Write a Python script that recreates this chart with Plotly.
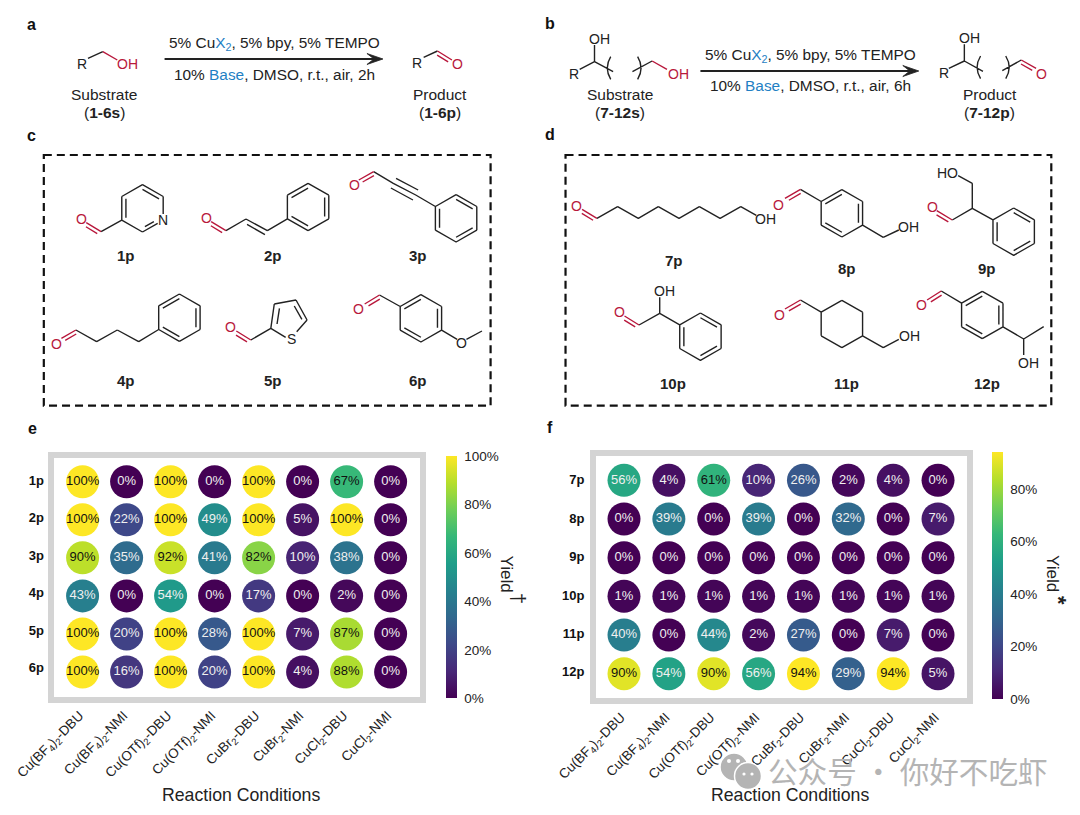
import plotly.graph_objects as go

# ---------- data ----------
CONDITIONS = ["Cu(BF<sub>4</sub>)<sub>2</sub>-DBU", "Cu(BF<sub>4</sub>)<sub>2</sub>-NMI",
              "Cu(OTf)<sub>2</sub>-DBU", "Cu(OTf)<sub>2</sub>-NMI",
              "CuBr<sub>2</sub>-DBU", "CuBr<sub>2</sub>-NMI",
              "CuCl<sub>2</sub>-DBU", "CuCl<sub>2</sub>-NMI"]
ROWS_E = ["1p", "2p", "3p", "4p", "5p", "6p"]
ROWS_F = ["7p", "8p", "9p", "10p", "11p", "12p"]
ROW_TICKS_E = [-0.03, 0.95, 1.93, 2.91, 3.90, 4.88]
ROW_TICKS_F = [-0.01, 0.98, 1.97, 2.97, 3.96, 4.94]
Y_1P = [100, 0, 100, 0, 100, 0, 67, 0]
Y_2P = [100, 22, 100, 49, 100, 5, 100, 0]
Y_3P = [90, 35, 92, 41, 82, 10, 38, 0]
Y_4P = [43, 0, 54, 0, 17, 0, 2, 0]
Y_5P = [100, 20, 100, 28, 100, 7, 87, 0]
Y_6P = [100, 16, 100, 20, 100, 4, 88, 0]
Y_7P = [56, 4, 61, 10, 26, 2, 4, 0]
Y_8P = [0, 39, 0, 39, 0, 32, 0, 7]
Y_9P = [0, 0, 0, 0, 0, 0, 0, 0]
Y_10P = [1, 1, 1, 1, 1, 1, 1, 1]
Y_11P = [40, 0, 44, 2, 27, 0, 7, 0]
Y_12P = [90, 54, 90, 56, 94, 29, 94, 5]
E_ROWS = [Y_1P, Y_2P, Y_3P, Y_4P, Y_5P, Y_6P]
F_ROWS = [Y_7P, Y_8P, Y_9P, Y_10P, Y_11P, Y_12P]
E_TICKS = [0, 20, 40, 60, 80, 100]
F_TICKS = [0, 20, 40, 60, 80]

# ---------- style ----------
W, H = 1080, 815
FONT = "Liberation Sans"
INK = "#222222"
RED = "#b8183c"
BLUE = "#1f7fc4"
FRAME = "#d4d4d4"


def L(x, y):  # left half drawing coordinates
    return x * 0.345, y / 3


def R_(x, y):  # right half drawing coordinates
    return 540 + x * 0.345, y / 3


def fx(x):
    return round(x / W, 5)


def fy(y):
    return round(1 - y / H, 5)


paths = {INK: [], RED: []}
annots = []


def bond(z, a, b, col=INK):
    p, q = z(*a), z(*b)
    paths[col].append(f"M {fx(p[0])} {fy(p[1])} L {fx(q[0])} {fy(q[1])}")


def dbl(z, a, b, ox, oy, col=INK):
    """double bond: main line plus a shorter parallel line offset by ox, oy"""
    bond(z, a, b, col)
    a2 = (a[0] + (b[0] - a[0]) * .12 + ox, a[1] + (b[1] - a[1]) * .12 + oy)
    b2 = (b[0] - (b[0] - a[0]) * .12 + ox, b[1] - (b[1] - a[1]) * .12 + oy)
    bond(z, a2, b2, col)


def hexagon(z, cx, cy, doubles=(), rx=60, ry=71, skip=()):
    v = [(cx, cy - ry), (cx + rx, cy - ry / 2), (cx + rx, cy + ry / 2),
         (cx, cy + ry), (cx - rx, cy + ry / 2), (cx - rx, cy - ry / 2)]
    for i in range(6):
        if i not in skip:
            bond(z, v[i], v[(i + 1) % 6])
    for i in doubles:
        a, b = v[i], v[(i + 1) % 6]
        a2 = (a[0] + (cx - a[0]) * .2, a[1] + (cy - a[1]) * .2)
        b2 = (b[0] + (cx - b[0]) * .2, b[1] + (cy - b[1]) * .2)
        bond(z, a2, b2)
    return v


def chain(z, *pts, col=INK):
    for a, b in zip(pts[:-1], pts[1:]):
        bond(z, a, b, col)


def text(z, x, y, s, size=14, col=INK, bold=False, family=FONT):
    p = z(x, y)
    annots.append(dict(x=fx(p[0]), y=fy(p[1]), xref="paper", yref="paper", text=f"<b>{s}</b>" if bold else s,
                       showarrow=False, xanchor="center", yanchor="middle",
                       font=dict(family=family, size=size, color=col)))


def side(x, y, s, size=17, angle=0, family=FONT, col=INK):
    annots.append(dict(x=fx(x), y=fy(y), xref="paper", yref="paper", text=s, textangle=angle, showarrow=False,
                       xanchor="center", yanchor="middle", font=dict(family=family, size=size, color=col)))


def oxygen(z, x, y):
    text(z, x, y, "O", col=RED)


def bracket(z, x, y0, y1, dx):
    p, q, c = z(x, y0), z(x, y1), z(x + dx, (y0 + y1) / 2)
    paths[INK].append(f"M {fx(p[0])} {fy(p[1])} Q {fx(c[0])} {fy(c[1])} {fx(q[0])} {fy(q[1])}")


# ---------- panels a, b ----------
BLUEX = f"<span style='color:{BLUE}'>X<sub>2</sub></span>"
BASE = f"<span style='color:{BLUE}'>Base</span>"
arrow_shapes = []
for (z, ly, cx, tail, bot) in [(L, 177, 795, 1110, "2h"), (R_, 213, 783, 1098, "6h")]:
    x0 = 477 if z is L else 465
    p, q = z(x0, ly), z(tail, ly)
    arrow_shapes.append(dict(type="line", xref="paper", yref="paper", x0=fx(p[0]), x1=fx(q[0] - 3), y0=fy(p[1]),
                             y1=fy(p[1]), line=dict(color=INK, width=2)))
    tx, ty = q
    arrow_shapes.append(dict(type="path", xref="paper", yref="paper",
                             path=f"M {fx(tx - 16)} {fy(ty - 5.5)} L {fx(tx)} {fy(ty)} L {fx(tx - 16)} {fy(ty + 5.5)} "
                                  f"L {fx(tx - 9)} {fy(ty)} Z",
                             fillcolor=INK, line=dict(color=INK, width=0.8)))
    text(z, cx + 2, ly - 47, f"5% Cu{BLUEX}, 5% bpy, 5% TEMPO", size=15.4)
    text(z, cx, ly + 45, f"10% {BASE}, DMSO, r.t., air, {bot}", size=15.4)

chain(L, (255, 175), (298, 155))
bond(L, (298, 155), (340, 180), RED)
text(L, 238, 192, "R")
text(L, 370, 192, "OH", col=RED)
bond(L, (1228, 172), (1268, 153))
dbl(L, (1268, 153), (1310, 180), -6, 9, RED)
text(L, 1210, 188, "R")
oxygen(L, 1326, 193)
text(L, 302, 283, "Substrate", 15.5)
text(L, 302, 337, "(<b>1-6s</b>)", 15.5)
text(L, 1275, 283, "Product", 15.5)
text(L, 1275, 337, "(<b>1-6p</b>)", 15.5)

text(R_, 172, 116, "OH")
text(R_, 100, 222, "R")
chain(R_, (115, 208), (158, 185), (158, 135))
bond(R_, (158, 185), (212, 215))
bracket(R_, 205, 170, 238, -20)
bracket(R_, 283, 170, 238, 20)
bond(R_, (268, 215), (325, 183))
bond(R_, (325, 183), (368, 208), RED)
text(R_, 400, 222, "OH", col=RED)
text(R_, 232, 283, "Substrate", 15.5)
text(R_, 232, 337, "(<b>7-12s</b>)", 15.5)
text(R_, 1245, 113, "OH")
text(R_, 1170, 218, "R")
chain(R_, (1185, 205), (1230, 183), (1230, 133))
bond(R_, (1230, 183), (1284, 214))
bracket(R_, 1277, 168, 236, -20)
bracket(R_, 1350, 168, 236, 20)
bond(R_, (1340, 212), (1395, 180))
dbl(R_, (1395, 180), (1438, 205), -6, 9, RED)
oxygen(R_, 1453, 222)
text(R_, 1303, 283, "Product", 15.5)
text(R_, 1303, 337, "(<b>7-12p</b>)", 15.5)

# ---------- panel c ----------
v = hexagon(L, 413, 625, doubles=(0, 4), skip=(1, 2))
bond(L, v[1], (473, 642))
bond(L, v[3], (457, 670))
bond(L, (420, 680), (446, 665))
text(L, 473, 661, "N")
bond(L, v[4], (293, 695))
dbl(L, (293, 695), (250, 668), -6, 9, RED)
oxygen(L, 235, 658)

v = hexagon(L, 893, 621, doubles=(5, 1, 3))
bond(L, v[4], (775, 692))
chain(L, (775, 692), (713, 657), (655, 692))
bond(L, (768, 704), (716, 673))
dbl(L, (655, 692), (612, 665), -6, 9, RED)
oxygen(L, 598, 655)

v = hexagon(L, 1322, 655, doubles=(0, 2, 4))
chain(L, v[5], (1205, 585), (1140, 550), (1083, 515))
bond(L, (1197, 600), (1133, 564))
bond(L, (1212, 570), (1148, 535))
dbl(L, (1083, 515), (1040, 540), 6, 9, RED)
oxygen(L, 1027, 555)

v = hexagon(L, 520, 953, doubles=(5, 1, 3))
chain(L, v[4], (402, 1025), (340, 990), (280, 1025), (220, 990))
dbl(L, (220, 990), (178, 1015), 6, 9, RED)
oxygen(L, 163, 1032)

chain(L, (785, 985), (795, 912), (858, 900), (890, 960), (860, 995))
bond(L, (785, 985), (828, 1012))
bond(L, (810, 925), (803, 972))
bond(L, (853, 918), (875, 958))
text(L, 846, 1016, "S")
bond(L, (785, 985), (727, 1020))
dbl(L, (727, 1020), (685, 993), -6, 9, RED)
oxygen(L, 668, 982)

v = hexagon(L, 1220, 955, doubles=(5, 1, 3))
bond(L, v[5], (1100, 885))
dbl(L, (1100, 885), (1057, 912), 6, 9, RED)
oxygen(L, 1040, 927)
bond(L, v[2], (1325, 1018))
text(L, 1338, 1030, "O")
bond(L, (1352, 1018), (1397, 993))

for (x, y, s) in [(365, 768, "1p"), (790, 768, "2p"), (1213, 768, "3p"),
                  (365, 1140, "4p"), (790, 1140, "5p"), (1213, 1140, "6p")]:
    text(L, x, y, s, 15, bold=True)

# ---------- panel d ----------
dbl(R_, (165, 655), (122, 628), -6, 9, RED)
chain(R_, (165, 655), (225, 620), (285, 655), (343, 620), (403, 655), (462, 620), (522, 655), (582, 620), (627, 646))
oxygen(R_, 107, 617)
text(R_, 655, 658, "OH")

v = hexagon(R_, 875, 640, doubles=(5, 1, 3))
bond(R_, v[5], (755, 568))
dbl(R_, (755, 568), (710, 595), 6, 9, RED)
oxygen(R_, 692, 615)
chain(R_, v[2], (995, 712), (1040, 690))
text(R_, 1068, 680, "OH")

v = hexagon(R_, 1373, 695, doubles=(0, 2, 4))
chain(R_, v[5], (1253, 625), (1195, 660))
dbl(R_, (1195, 660), (1150, 632), -6, 9, RED)
oxygen(R_, 1137, 620)
chain(R_, (1253, 625), (1253, 550), (1212, 527))
text(R_, 1180, 518, "HO")

v = hexagon(R_, 465, 1010, doubles=(0, 2, 4))
chain(R_, v[5], (347, 940), (287, 975))
dbl(R_, (287, 975), (245, 948), -6, 9, RED)
oxygen(R_, 230, 937)
bond(R_, (347, 940), (347, 892))
text(R_, 360, 872, "OH")

v = hexagon(R_, 875, 972)
bond(R_, v[5], (755, 900))
dbl(R_, (755, 900), (710, 927), 6, 9, RED)
oxygen(R_, 693, 945)
chain(R_, v[2], (995, 1043), (1040, 1018))
text(R_, 1070, 1008, "OH")

v = hexagon(R_, 1282, 945, doubles=(5, 1, 3))
bond(R_, v[5], (1163, 873))
dbl(R_, (1163, 873), (1122, 900), 6, 9, RED)
oxygen(R_, 1107, 915)
chain(R_, v[2], (1402, 1017), (1460, 980))
bond(R_, (1402, 1017), (1402, 1065))
text(R_, 1415, 1088, "OH")

for (x, y, s) in [(388, 780, "7p"), (889, 805, "8p"), (1296, 805, "9p"),
                  (386, 1150, "10p"), (889, 1150, "11p"), (1296, 1150, "12p")]:
    text(R_, x, y, s, 15, bold=True)

# panel letters
text(L, 92, 72, "a", 16, "#111", True)
text(L, 92, 408, "c", 16, "#111", True)
text(R_, 30, 70, "b", 16, "#111", True)
text(R_, 30, 405, "d", 16, "#111", True)
side(32, 429, "<b>e</b>", 16, col="#111")
side(550, 428, "<b>f</b>", 16, col="#111")

shapes = [dict(type="path", xref="paper", yref="paper", path=" ".join(p),
               line=dict(color=c, width=1.4), layer="above") for c, p in paths.items()] + arrow_shapes
for z, a, b in [(L, (127, 465), (1422, 1217)), (R_, (74, 465), (1482, 1217))]:
    p, q = z(*a), z(*b)
    shapes.append(dict(type="rect", xref="paper", yref="paper", x0=fx(p[0]), x1=fx(q[0]), y0=fy(p[1]), y1=fy(q[1]),
                       line=dict(color="#111", width=2.2, dash="8px,5px")))

# ---------- dot matrices ----------
fig = go.Figure()


def matrix(values, xa, ya, cmax, bar_x, bar_top, bar_bottom, ticks):
    xs, ys, zs, labels, tcol = [], [], [], [], []
    for j, row in enumerate(values):
        for i, val in enumerate(row):
            xs.append(i)
            ys.append(j)
            zs.append(val)
            labels.append(f"{val}%")
            tcol.append("#111111" if val >= 60 else "#f0f0f0")
    fig.add_trace(go.Scatter(
        x=xs, y=ys, mode="markers+text", xaxis=xa, yaxis=ya, text=labels, textposition="middle center",
        textfont=dict(family=FONT, size=13, color=tcol), cliponaxis=False, showlegend=False,
        marker=dict(size=33, color=zs, colorscale="Viridis", cmin=0, cmax=cmax, line=dict(width=0),
                    colorbar=dict(x=fx(bar_x), xanchor="left", xpad=0, ypad=0, y=fy(bar_bottom), yanchor="bottom",
                                  lenmode="pixels", len=bar_bottom - bar_top, thickness=11.4, outlinewidth=0,
                                  tickvals=ticks, ticktext=[f"{t}%" for t in ticks], ticks="outside", ticklen=5,
                                  tickcolor="white", tickwidth=0,
                                  tickfont=dict(family=FONT, size=13.5, color=INK)))))


matrix(E_ROWS, "x", "y", 100, 445.6, 456.7, 698.3, E_TICKS)
matrix(F_ROWS, "x2", "y2", 94, 991.8, 452.3, 699, F_TICKS)


def x_axis(domain, rng):
    return dict(domain=[fx(domain[0]), fx(domain[1])], range=rng, tickvals=list(range(8)), ticktext=CONDITIONS,
                tickangle=-45, tickfont=dict(family=FONT, size=13.5, color=INK), showline=True, mirror=True,
                linecolor=FRAME, linewidth=5.5, showgrid=False, zeroline=False, ticks="", fixedrange=True,
                ticklabelshift=-3)


def y_axis(domain, rng, names, tickpos, standoff):
    return dict(domain=[fy(domain[1]), fy(domain[0])], range=rng, tickvals=tickpos,
                ticktext=[f"<b>{n}</b>" for n in names], tickfont=dict(family=FONT, size=13, color="#111"),
                showline=True, mirror=True, linecolor=FRAME, linewidth=5.5, showgrid=False, zeroline=False,
                ticks="", fixedrange=True, ticklabelstandoff=standoff)


side(241.5, 795, "Reaction Conditions", 17.7)
side(790.5, 795, "Reaction Conditions", 17.7)
side(506.5, 574, "Yield", 17, 90)
side(518, 598, "†", 20, 90)
side(1052, 574, "Yield", 17, 90)
side(1059, 600, "<b>*</b>", 22, 90)

# watermark
side(908.5, 770, "公众号 · 你好不吃虾", 29.6, 0, "Noto Sans CJK SC", "#b4b4b4")
for cx, cy, r in [(734, 767, 14), (748, 776, 13.5)]:
    shapes.append(dict(type="circle", xref="paper", yref="paper", x0=fx(cx - r), x1=fx(cx + r), y0=fy(cy - r),
                       y1=fy(cy + r), fillcolor="#b4b4b4", line=dict(color="white", width=1.5), layer="above"))
for cx, cy, r in [(729, 761, 2), (738, 761, 2), (744, 774, 1.6), (752, 774, 1.6)]:
    shapes.append(dict(type="circle", xref="paper", yref="paper", x0=fx(cx - r), x1=fx(cx + r), y0=fy(cy - r),
                       y1=fy(cy + r), fillcolor="white", line=dict(width=0), layer="above"))

fig.update_layout(
    width=W, height=H, margin=dict(l=0, r=0, t=0, b=0, autoexpand=False), plot_bgcolor="white", paper_bgcolor="white",
    font=dict(family=FONT), shapes=shapes, annotations=annots, hovermode=False,
    xaxis=x_axis((54.3, 419.7), [-0.643, 7.661]),
    yaxis=y_axis((458.3, 696.7), [5.649, -0.615], ROWS_E, ROW_TICKS_E, 2),
    xaxis2=dict(x_axis((595.7, 966.6), [-0.631, 7.637]), anchor="y2"),
    yaxis2=dict(y_axis((455.7, 698.3), [5.637, -0.636], ROWS_F, ROW_TICKS_F, 3), anchor="x2"),
)

fig.write_html("out.html", config=dict(displayModeBar=False),
               post_script="document.body.style.margin='0';document.documentElement.style.overflow='hidden';")
